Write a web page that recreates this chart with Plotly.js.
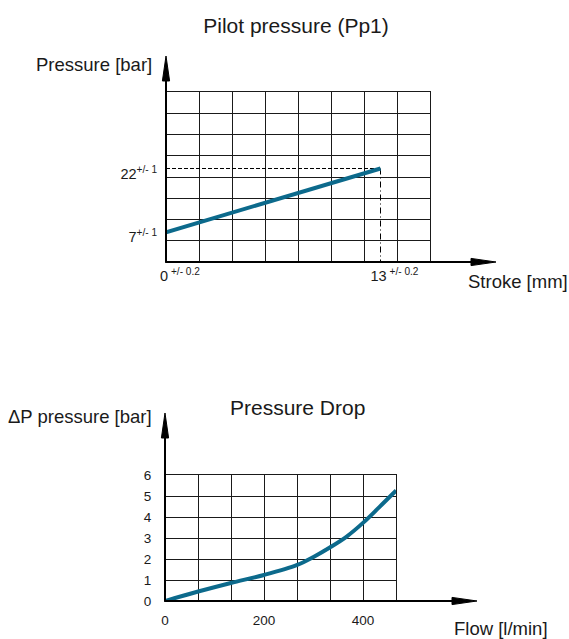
<!DOCTYPE html>
<html><head><meta charset="utf-8">
<script src="https://cdn.plot.ly/plotly-3.0.1.min.js"></script>
<style>html,body{margin:0;padding:0;background:#fff}</style>
</head><body><div id="chart" style="width:569px;height:639px"></div>
<script>
// ---- Pilot pressure (Pp1) ----
const strokeMm = [0, 13];
const pilotBar = [7, 22];
const strokeTickVals = [0, 13];
const strokeTickText = ['0<sup>\u00A0+/- 0.2</sup>', '13<sup>\u00A0+/- 0.2</sup>'];
const pilotTickVals = [7, 22];
const pilotTickText = ['7<sup>+/- 1</sup>', '22<sup>+/- 1</sup>'];

// ---- Pressure Drop ----
const flowLmin = [0, 67, 133, 200, 267, 300, 333, 367, 400, 433, 467];
const dropBar  = [0, 0.45, 0.86, 1.24, 1.72, 2.1, 2.55, 3.07, 3.72, 4.47, 5.26];
const flowTickVals = [0, 200, 400];
const dropTickVals = [0, 1, 2, 3, 4, 5, 6];

const W = 569, H = 639;
const FONT = 'Liberation Sans, Arial, Helvetica, sans-serif';
const INK = '#1a1a1a';
const LINE = '#0c6a8c';
const GRID = '#1a1a1a';

function px(x, y) { return (x / W).toFixed(5) + ' ' + (1 - y / H).toFixed(5); }
function arrowShapes(x0, y0, x1, y1, vertical) {
  // axis line with slender filled arrow head (decoration)
  const len = 25, half = 3.6;
  let bx, by, p1, p2;
  if (vertical) { bx = x1; by = y1 + len; p1 = px(x1 - half, by); p2 = px(x1 + half, by); }
  else { bx = x1 - len; by = y1; p1 = px(bx, y1 - half); p2 = px(bx, y1 + half); }
  return [
    {type: 'path', xref: 'paper', yref: 'paper', path: 'M ' + px(x0, y0) + ' L ' + px(bx, by),
     line: {color: '#000', width: 2}},
    {type: 'path', xref: 'paper', yref: 'paper', path: 'M ' + px(x1, y1) + ' L ' + p1 + ' L ' + p2 + ' Z',
     fillcolor: '#000', line: {color: '#000', width: 1}}
  ];
}

const traces = [
  {x: [0, strokeMm[1]], y: [pilotBar[1], pilotBar[1]], xaxis: 'x', yaxis: 'y', mode: 'lines',
   line: {color: '#000', width: 1, dash: '4px,2px'}, hoverinfo: 'skip', showlegend: false},
  {x: [strokeMm[1], strokeMm[1]], y: [pilotBar[1], 0], xaxis: 'x', yaxis: 'y', mode: 'lines',
   line: {color: '#000', width: 1, dash: '6px,3px,1px,3px'}, hoverinfo: 'skip', showlegend: false},
  {x: strokeMm, y: pilotBar, xaxis: 'x', yaxis: 'y', mode: 'lines',
   line: {color: LINE, width: 4}, showlegend: false, cliponaxis: false},
  {x: flowLmin, y: dropBar, xaxis: 'x2', yaxis: 'y2', mode: 'lines',
   line: {color: LINE, width: 4, shape: 'spline', smoothing: 1}, showlegend: false, cliponaxis: false}
];

const axBase = {
  showline: true, mirror: true, linecolor: GRID, linewidth: 1, zeroline: false,
  showgrid: false, fixedrange: true, color: INK
};

const layout = {
  width: W, height: H, autosize: false,
  margin: {l: 0, r: 0, t: 0, b: 0},
  paper_bgcolor: '#fff', plot_bgcolor: '#fff',
  font: {family: FONT, color: INK},
  showlegend: false,
  title: {text: 'Pilot pressure (Pp1)', x: 296 / W, xanchor: 'center', y: 1 - 26 / H, yanchor: 'middle',
          font: {size: 21, color: INK, family: FONT}},
  xaxis: Object.assign({}, axBase, {
    domain: [166 / W, 430 / W], anchor: 'y', range: [0, 16],
    tickmode: 'array', tickvals: strokeTickVals, ticktext: strokeTickText,
    ticks: 'outside', ticklen: 1, tickcolor: 'rgba(0,0,0,0)', tickfont: {size: 14.5},
    ticklabelshift: 14,
    minor: {tickmode: 'linear', tick0: 0, dtick: 2, showgrid: true, gridcolor: GRID, gridwidth: 1, ticks: ''}
  }),
  yaxis: Object.assign({}, axBase, {
    domain: [(H - 262) / H, (H - 92) / H], anchor: 'x', range: [0, 40],
    tickmode: 'array', tickvals: pilotTickVals, ticktext: pilotTickText,
    ticks: 'outside', ticklen: 5, tickcolor: 'rgba(0,0,0,0)', tickfont: {size: 14.5},
    ticklabelshift: 5,
    minor: {tickmode: 'linear', tick0: 0, dtick: 5, showgrid: true, gridcolor: GRID, gridwidth: 1, ticks: ''}
  }),
  xaxis2: Object.assign({}, axBase, {
    domain: [165 / W, 396 / W], anchor: 'y2', range: [0, 1400 / 3],
    tickmode: 'array', tickvals: flowTickVals,
    ticks: 'outside', ticklen: 7, tickcolor: 'rgba(0,0,0,0)', tickfont: {size: 13.5},
    minor: {tickmode: 'linear', tick0: 0, dtick: 200 / 3, showgrid: true, gridcolor: GRID, gridwidth: 1, ticks: ''}
  }),
  yaxis2: Object.assign({}, axBase, {
    domain: [38 / H, 164 / H], anchor: 'x2', range: [0, 6],
    tickmode: 'array', tickvals: dropTickVals, showgrid: true, gridcolor: GRID, gridwidth: 1,
    ticks: 'outside', ticklen: 10, tickcolor: 'rgba(0,0,0,0)', tickfont: {size: 13.5}
  }),
  annotations: [
    {text: 'Pressure Drop', xref: 'paper', yref: 'paper', x: 297 / W, y: 1 - 407 / H,
     xanchor: 'center', yanchor: 'middle', showarrow: false, font: {size: 21, color: INK}},
    {text: 'Pressure [bar]', xref: 'paper', yref: 'paper', x: 154 / W, y: 1 - 64.5 / H,
     xanchor: 'right', yanchor: 'middle', showarrow: false, font: {size: 18.5, color: INK}},
    {text: '\u0394P pressure [bar]', xref: 'paper', yref: 'paper', x: 154 / W, y: 1 - 416 / H,
     xanchor: 'right', yanchor: 'middle', showarrow: false, font: {size: 18.5, color: INK}},
    {text: 'Stroke [mm]', xref: 'paper', yref: 'paper', x: 466 / W, y: 1 - 281 / H,
     xanchor: 'left', yanchor: 'middle', showarrow: false, font: {size: 18.5, color: INK}},
    {text: 'Flow [l/min]', xref: 'paper', yref: 'paper', x: 452 / W, y: 1 - 628 / H,
     xanchor: 'left', yanchor: 'middle', showarrow: false, font: {size: 18.5, color: INK}}
  ],
  shapes: [].concat(
    arrowShapes(166, 262, 166, 56, true),
    arrowShapes(166, 262, 496, 262, false),
    arrowShapes(165, 601, 165, 413, true),
    arrowShapes(165, 601, 477, 601, false)
  )
};

Plotly.newPlot('chart', traces, layout, {displayModeBar: false, staticPlot: true});
</script>
</body></html>
